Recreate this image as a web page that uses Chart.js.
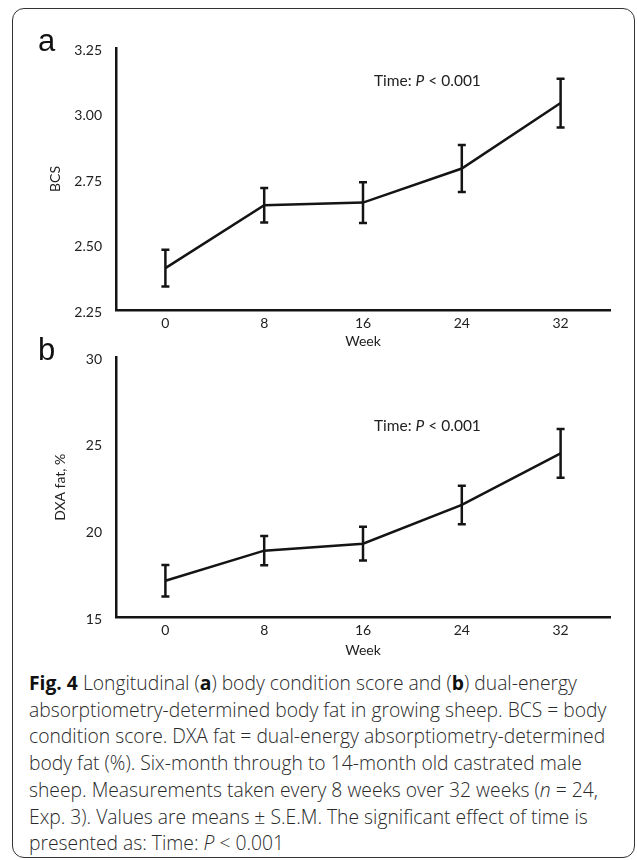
<!DOCTYPE html>
<html>
<head>
<meta charset="utf-8">
<script src="https://cdn.jsdelivr.net/npm/chart.js@4.4.0/dist/chart.umd.min.js"></script>
<style>
  body { margin: 0; background: #fff; width: 637px; height: 860px; position: relative; overflow: hidden; }
  #frame { position: absolute; left: 12px; top: 8px; width: 623px; height: 850px; box-sizing: border-box;
           border: 1.5px solid #333; border-radius: 12px; }
  .panel { position: absolute; left: 0; width: 637px; }
  #panelA { top: 0; height: 350px; }
  #panelB { top: 330px; height: 330px; }
  .letter { position: absolute; left: 38px; font-family: "Liberation Sans", Arial, sans-serif; font-size: 31px; color: #111; line-height: 1; }
  #caption { position: absolute; left: 29px; top: 670px; font-family: "Open Sans", sans-serif; font-weight: 300;
             font-size: 19.3px; line-height: 26.7px; color: #2a2a2a; white-space: nowrap; }
  #caption b { font-weight: 700; color: #111; }
</style>
</head>
<body>
<div id="frame"></div>
<div class="panel" id="panelA"><canvas id="chartA"></canvas></div>
<div class="panel" id="panelB"><canvas id="chartB"></canvas></div>
<div class="letter" style="top:25px">a</div>
<div class="letter" style="top:334px">b</div>
<div id="caption">
<b>Fig. 4</b> Longitudinal (<b>a</b>) body condition score and (<b>b</b>) dual-energy<br>
absorptiometry-determined body fat in growing sheep. BCS = body<br>
condition score. DXA fat = dual-energy absorptiometry-determined<br>
body fat (%). Six-month through to 14-month old castrated male<br>
sheep. Measurements taken every 8 weeks over 32 weeks (<i>n</i> = 24,<br>
Exp. 3). Values are means ± S.E.M. The significant effect of time is<br>
presented as: Time: <i>P</i> &lt; 0.001
</div>
<script>
// week of measurement
const weeks = ["0", "8", "16", "24", "32"];

// (a) body condition score, mean and S.E.M.
const bcsMean = [2.41, 2.65, 2.66, 2.79, 3.04];
const bcsSem = [0.07, 0.066, 0.078, 0.09, 0.093];

// (b) DXA fat %, mean and S.E.M.
const fatMean = [17.12, 18.85, 19.25, 21.48, 24.45];
const fatSem = [0.91, 0.84, 0.97, 1.11, 1.4];

const tickFont = { family: "Lato", size: 14 };
const ink = "#141414";

// vertical S.E.M. bars with small caps
const errorBars = {
  id: "errorBars",
  afterDatasetsDraw(chart, args, opts) {
    const { ctx, scales: { x, y } } = chart;
    const means = chart.data.datasets[0].data;
    ctx.save();
    ctx.strokeStyle = ink;
    ctx.lineWidth = 2.5;
    means.forEach((m, i) => {
      const px = x.getPixelForValue(i);
      const top = y.getPixelForValue(m + opts.sems[i]);
      const bot = y.getPixelForValue(m - opts.sems[i]);
      ctx.beginPath();
      ctx.moveTo(px, top); ctx.lineTo(px, bot);
      ctx.moveTo(px - 4, top); ctx.lineTo(px + 4, top);
      ctx.moveTo(px - 4, bot); ctx.lineTo(px + 4, bot);
      ctx.stroke();
    });
    ctx.restore();
  }
};

// "Time: P < 0.001" note with italic P
const timeNote = {
  id: "timeNote",
  afterDraw(chart, args, opts) {
    const { ctx, chartArea } = chart;
    let xPos = chartArea.left + opts.dx;
    const yPos = chartArea.top + opts.dy;
    ctx.save();
    ctx.fillStyle = "#222";
    ctx.textBaseline = "middle";
    [["Time: ", ""], ["P", "italic "], [" < 0.001", ""]].forEach(([t, style]) => {
      ctx.font = style + "15.5px Lato";
      ctx.fillText(t, xPos, yPos);
      xPos += ctx.measureText(t).width;
    });
    ctx.restore();
  }
};

const makeChart = (id, means, sems, yMin, yMax, yStep, decimals, yTitle, cfg) => {
  const ctx = document.getElementById(id).getContext("2d");
  return new Chart(ctx, {
    type: "line",
    data: {
      labels: weeks,
      datasets: [{
        data: means,
        borderColor: ink,
        borderWidth: 2.5,
        pointRadius: 0,
        tension: 0,
        fill: false
      }]
    },
    options: {
      responsive: true,
      maintainAspectRatio: false,
      animation: false,
      events: [],
      layout: { padding: { top: cfg.padTop, left: 47, right: 27, bottom: 0 } },
      plugins: {
        legend: { display: false },
        tooltip: { enabled: false },
        errorBars: { sems: sems },
        timeNote: { dx: 258, dy: cfg.noteDy }
      },
      scales: {
        x: {
          type: "category",
          offset: true,
          grid: { display: true, drawOnChartArea: false, drawTicks: false },
          border: { display: true, color: ink, width: 2.5 },
          ticks: { font: tickFont, color: "#222", padding: 5, maxRotation: 0 },
          title: { display: true, text: "Week", font: tickFont, color: "#222", padding: { top: 0, bottom: cfg.weekPad } },
          afterFit: (s) => { s.height = cfg.xHeight; }
        },
        y: {
          min: yMin,
          max: yMax,
          grid: { display: true, drawOnChartArea: false, drawTicks: false },
          border: { display: true, color: ink, width: 2.5 },
          ticks: {
            stepSize: yStep,
            font: tickFont,
            color: "#222",
            padding: 14,
            labelOffset: 2,
            callback: (v) => Number(v).toFixed(decimals)
          },
          title: { display: true, text: yTitle, font: tickFont, color: "#222", padding: { top: cfg.yTitlePad, bottom: 0 } },
          afterFit: (s) => { s.width = 69; }
        }
      }
    },
    plugins: [errorBars, timeNote]
  });
};

makeChart("chartA", bcsMean, bcsSem, 2.25, 3.25, 0.25, 2, "BCS",
  { padTop: 48, xHeight: 40, weekPad: 0, yTitlePad: 0, noteDy: 33 });
makeChart("chartB", fatMean, fatSem, 15, 30, 5, 0, "DXA fat, %",
  { padTop: 27, xHeight: 42.5, weekPad: 1, yTitlePad: 5, noteDy: 69 });
</script>
</body>
</html>
